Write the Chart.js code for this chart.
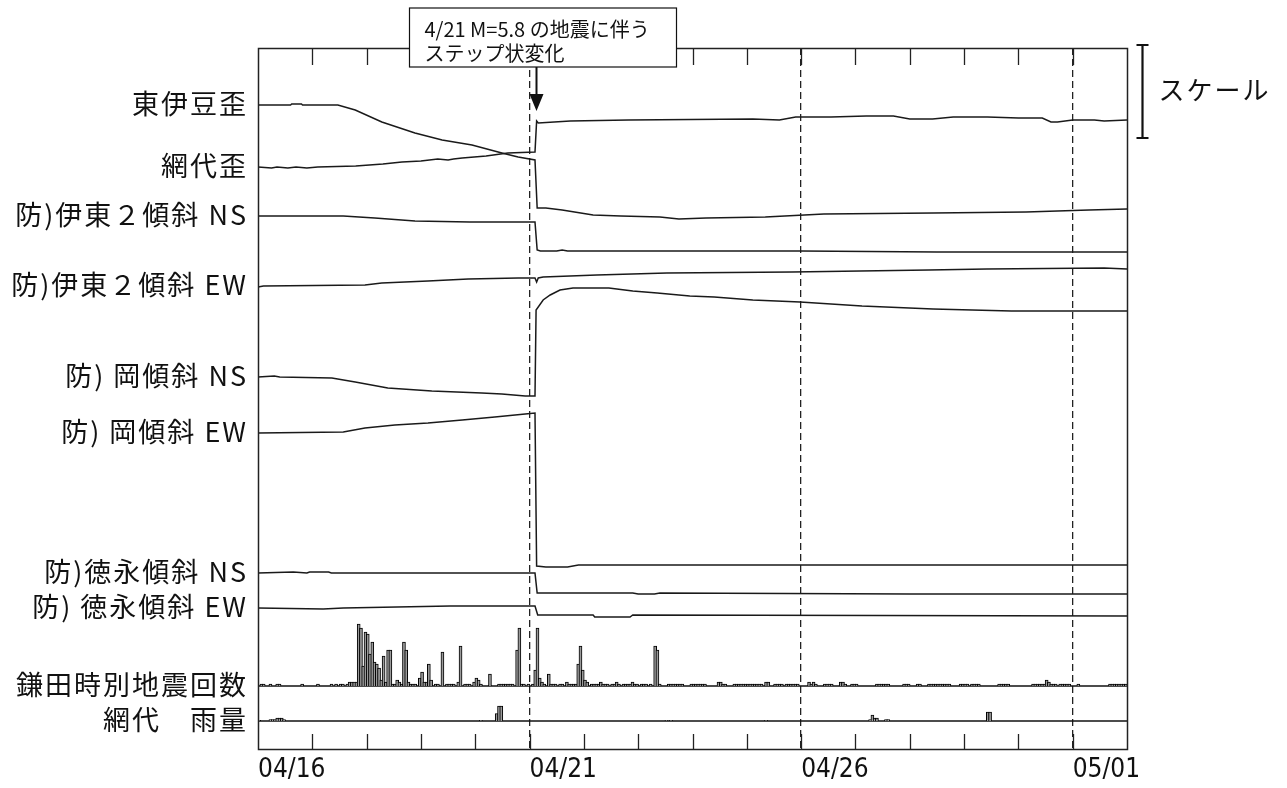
<!DOCTYPE html>
<html>
<head>
<meta charset="utf-8">
<script src="https://cdn.jsdelivr.net/npm/chart.js@4.4.1/dist/chart.umd.min.js"></script>
<style>
  html, body { margin: 0; padding: 0; background: #fff; }
  canvas { display: block; }
</style>
</head>
<body>
<canvas id="chart" width="1287" height="788"></canvas>
<script>
// x axis: days since 04/16 00:00
const tickDays = [0, 5, 10, 15];
const tickLabels = ["04/16", "04/21", "04/26", "05/01"];
const dashDays = [5, 10, 15];
const quakeDay = 5.12; // 4/21 02:50 M5.8

const seriesNames = [
  "東伊豆歪", "網代歪", "防)伊東２傾斜 NS", "防)伊東２傾斜 EW",
  "防) 岡傾斜 NS", "防) 岡傾斜 EW", "防)徳永傾斜 NS", "防) 徳永傾斜 EW",
  "鎌田時別地震回数", "網代　雨量"
];

// traces: [day, change from start of trace] (plot units, up = +)
const higashiIzuStrain = [[0,0],[0.6,0],[0.62,1],[0.8,1],[0.82,0],[1.47,0],[1.79,-5],[2.28,-17],[2.89,-28],[3.39,-35],[3.94,-40],[4.49,-48],[4.79,-52],[5.1,-55],[5.14,-103],[5.3,-103],[5.6,-105],[6.17,-110],[6.68,-111],[7.4,-112],[7.75,-114],[8.25,-113],[9.34,-112],[10.42,-109],[12.43,-108],[14.14,-107],[15.3,-105],[16,-104]];
const ajiroStrain = [[0,0],[0.25,-1],[0.35,0],[0.55,-1],[0.7,0],[0.9,-1],[1.1,0],[1.8,1],[2.3,3],[2.65,5],[3.0,6],[3.31,8],[3.5,7],[3.6,8],[3.76,9],[4.2,11],[4.6,14],[5.1,15],[5.13,46],[5.16,44],[5.75,46],[6.82,47],[9.11,48],[9.6,47],[9.9,50],[10.55,50],[11.2,51],[11.7,51],[12.0,48],[12.42,48],[12.8,50],[13.43,50],[14.0,49],[14.44,49],[14.6,45],[14.72,45],[15.0,47],[15.4,47],[15.58,46],[16,47]];
const itoNS = [[0,0],[1.57,0],[2.15,-2],[2.89,-5],[3.9,-6],[5.1,-6],[5.14,-34],[5.2,-35],[5.5,-35],[5.6,-34],[5.7,-35],[10,-35],[12.5,-36],[16,-36]];
const itoEW = [[0,-1],[0.1,0],[1.97,1],[2.28,3],[3.13,5],[3.87,7],[4.79,8],[5.1,8],[5.13,4],[5.16,8],[5.25,9],[6.24,11],[7.53,13],[9.83,14],[12.35,16],[13.42,17],[15.58,18],[16,17]];
const okaNS = [[0,0],[0.3,1],[0.4,0],[1.36,-1],[1.79,-5],[2.39,-11],[3.2,-14],[4.12,-16],[4.49,-17],[4.92,-19],[5.1,-19],[5.12,67],[5.25,77],[5.38,82],[5.56,87],[5.8,89],[6.46,89],[6.9,86],[7.35,84],[7.95,81],[8.4,80],[9.11,77],[9.98,75],[11.12,71],[12.43,68],[13.87,66],[16,66]];
const okaEW = [[0,0],[1.57,1],[1.97,5],[2.52,8],[3.13,10],[3.76,13],[4.36,16],[4.92,19],[5.1,20],[5.13,-133],[5.3,-134],[5.7,-134],[5.9,-132],[16,-132]];
const tokunagaNS = [[0,0],[0.65,1],[0.9,0],[0.95,1],[1.3,1],[1.35,0],[5.1,0],[5.14,-20],[6.9,-20],[7.0,-21],[7.3,-21],[7.4,-20],[12,-21],[16,-21]];
const tokunagaEW = [[0,0],[1.2,-1],[1.57,0],[3.54,2],[5.1,2],[5.15,-7],[6.17,-7],[6.2,-9],[6.85,-9],[6.9,-7],[16,-8]];

// hourly earthquake counts at Kamata: [hour since 04/16 00:00, count]
const hourlyQuakes = [[1,1],[2,1],[5,1],[8,1],[9,1],[19,1],[26,1],[32,1],[34,1],[36,1],[37,1],[39,1],[40,2],[41,2],[42,2],[43,2],
  [44,31],[45,29],[46,10],[47,27],[48,26],[49,16],[50,22],[51,12],[52,11],[53,9],[54,3],[55,15],[56,2],[57,18],[58,18],[59,1],[60,1],[61,3],[62,2],[63,1],[64,22],[65,18],[66,2],[67,1],[68,1],[69,1],[71,4],[72,7],[73,2],[74,2],[75,11],[76,3],[78,1],[79,1],[81,17],[83,1],[84,1],[85,1],[86,1],[88,2],[89,20],[91,1],[92,1],[93,1],[95,2],[96,4],[97,3],[98,1],[102,6],[106,1],[107,1],[108,1],[109,1],[110,1],[111,1],[112,1],[114,18],[115,29],[116,1],[117,1],[119,1],[121,1],[122,8],[123,29],[124,4],[125,2],[126,1],[128,6],[129,1],[130,1],[131,1],[133,1],[134,1],[136,2],[137,1],[138,1],[139,1],[140,1],[141,11],[142,20],[143,8],[144,3],[145,2],[147,1],[148,1],[149,1],[150,1],[151,2],[152,1],[153,1],[154,1],[156,1],[157,1],[158,2],[159,1],[161,1],[162,1],[163,1],[164,1],[165,2],[166,1],[167,1],[169,1],[170,1],[171,1],[173,1],[175,20],[176,18],[177,1],
  [181,1],[182,1],[183,1],[184,1],[185,1],[186,1],[187,1],[191,1],[192,1],[193,1],[194,1],[195,1],[196,1],[197,1],[203,2],[204,2],[205,1],[206,1],[210,1],[211,1],[212,1],[213,1],[214,1],[215,1],[216,1],[217,1],[218,1],[219,1],[220,1],[221,1],[222,1],[224,2],[225,2],[228,1],[229,1],[230,1],[231,1],[233,1],[234,1],[235,1],[236,1],[237,1],[238,1],[243,2],[244,1],[245,2],[246,1],[250,1],[251,1],[252,1],[253,1],[257,2],[258,2],[259,1],[262,1],[263,1],[264,1],[273,1],[274,1],[275,1],[276,1],[277,1],[278,1],[285,1],[286,1],[287,1],[291,1],[292,1],[296,1],[297,1],[298,1],[299,1],[300,1],[301,1],[302,1],[303,1],[304,1],[305,1],[310,1],[311,1],[312,1],[313,1],[315,1],[316,1],[317,1],[318,1],[327,1],[328,1],[329,1],[330,1],[331,1],[342,1],[343,1],[344,1],[345,1],[346,1],[347,1],[348,3],[349,2],[350,1],[351,1],[352,1],[354,1],[355,1],[356,1],[357,1],[358,1],[362,1],[376,1],[377,1],[378,1],[379,1],[380,1],[381,1],[382,1],[383,1]];

// hourly rainfall at Ajiro: [hour, mm]
const hourlyRain = [[0,0.5],[5,1],[6,1],[7,1],[8,2],[9,2],[10,2],[11,1],[98,0.5],[105,5],[106,10],[107,10],[180,0.5],[182,0.5],[224,0.5],[270,1],[271,4],[272,2],[273,2],[277,1],[278,1],[322,6],[323,6]];

// layout of the stacked traces (plot units on the hidden y axis, 0..701)
const traceBase = [644, 582, 533, 463, 372, 316, 176, 141];
const countBase = 63, countPx = 2;
const rainBase = 28, rainPx = 1.5;
const plotH = 701;

const traces = [higashiIzuStrain, ajiroStrain, itoNS, itoEW, okaNS, okaEW, tokunagaNS, tokunagaEW];

const lineSets = traces.map((t, i) => ({
  type: "line",
  label: seriesNames[i],
  data: t.map(([d, v]) => ({ x: d, y: traceBase[i] + v })),
  borderColor: "#1a1a1a",
  borderWidth: 1.5,
  pointRadius: 0,
  tension: 0,
  yAxisID: "y",
}));

const barStyle = {
  type: "bar",
  grouped: false,
  barThickness: 3,
  borderWidth: 1,
  borderColor: "#000",
  backgroundColor: "#9a9a9a",
};

const datasets = [
  ...lineSets,
  { ...barStyle, label: seriesNames[8], yAxisID: "yc",
    data: hourlyQuakes.map(([h, n]) => ({ x: (h + 0.5) / 24, y: n })) },
  { ...barStyle, label: seriesNames[9], yAxisID: "yr",
    data: hourlyRain.map(([h, r]) => ({ x: (h + 0.5) / 24, y: r })) },
  { type: "line", label: "count zero", yAxisID: "yc", data: [{ x: 0, y: 0 }, { x: 16, y: 0 }],
    borderColor: "#111", borderWidth: 1.5, pointRadius: 0 },
  { type: "line", label: "rain zero", yAxisID: "yr", data: [{ x: 0, y: 0 }, { x: 16, y: 0 }],
    borderColor: "#111", borderWidth: 1.5, pointRadius: 0 },
];

const framePlugin = {
  id: "frame",
  afterDatasetsDraw(chart) {
    const { ctx, chartArea: a, scales } = chart;
    const { x, y, yc, yr } = scales;
    ctx.save();

    // day ticks inside the frame
    ctx.strokeStyle = "#222";
    ctx.lineWidth = 1.3;
    x.ticks.forEach(t => {
      if (t.value <= x.min || t.value >= x.max) return;
      const px = Math.round(x.getPixelForValue(t.value)) + 0.5;
      ctx.beginPath();
      ctx.moveTo(px, a.top); ctx.lineTo(px, a.top + 17);
      ctx.moveTo(px, a.bottom); ctx.lineTo(px, a.bottom - 15);
      ctx.stroke();
    });

    // frame
    ctx.lineWidth = 1.5;
    ctx.strokeStyle = "#222";
    ctx.strokeRect(Math.round(a.left) + 0.5, Math.round(a.top) + 0.5, Math.round(a.width), Math.round(a.height));

    // series names on the left
    const labelY = traceBase.map(v => y.getPixelForValue(v))
      .concat([yc.getPixelForValue(0), yr.getPixelForValue(0)]);
    ctx.fillStyle = "#111";
    ctx.font = '27px "Noto Sans CJK JP", sans-serif';
    ctx.textAlign = "right";
    ctx.textBaseline = "middle";
    ctx.letterSpacing = "2px";
    seriesNames.forEach((n, i) => ctx.fillText(n, a.left - 10, labelY[i] - 1));

    // annotation box + arrow at the earthquake
    const qx = Math.round(x.getPixelForValue(quakeDay)) + 0.5;
    const bx = qx - 127, bw = 267, by = a.top - 40, bh = 59;
    ctx.fillStyle = "#fff";
    ctx.fillRect(bx, by, bw, bh);
    ctx.lineWidth = 1.2;
    ctx.strokeStyle = "#111";
    ctx.strokeRect(bx, by, bw, bh);
    ctx.fillStyle = "#111";
    ctx.textAlign = "left";
    ctx.letterSpacing = "0px";
    ctx.font = '20px "Noto Sans CJK JP", sans-serif';
    ctx.fillText("4/21 M=5.8 の地震に伴う", bx + 15, by + 21);
    ctx.fillText("ステップ状変化", bx + 15, by + 45);

    ctx.lineWidth = 2;
    ctx.beginPath();
    ctx.moveTo(qx, by + bh); ctx.lineTo(qx, a.top + 48);
    ctx.stroke();
    ctx.beginPath();
    ctx.moveTo(qx - 7, a.top + 46); ctx.lineTo(qx + 7, a.top + 46); ctx.lineTo(qx, a.top + 63);
    ctx.closePath();
    ctx.fill();

    // scale bar
    const sx = a.right + 15.5, st = a.top - 3, sb = a.top + 90;
    ctx.lineWidth = 2.2;
    ctx.beginPath();
    ctx.moveTo(sx, st); ctx.lineTo(sx, sb);
    ctx.moveTo(sx - 6, st); ctx.lineTo(sx + 6, st);
    ctx.moveTo(sx - 6, sb); ctx.lineTo(sx + 6, sb);
    ctx.stroke();
    ctx.font = '26px "Noto Sans CJK JP", sans-serif';
    ctx.letterSpacing = "2px";
    ctx.fillText("スケール", sx + 16, (st + sb) / 2 - 1);

    ctx.restore();
  },
};

new Chart(document.getElementById("chart"), {
  type: "line",
  data: { datasets },
  options: {
    responsive: false,
    animation: false,
    events: [],
    layout: { padding: { left: 258, right: 160, top: 48, bottom: 0 } },
    plugins: { legend: { display: false }, tooltip: { enabled: false } },
    scales: {
      x: {
        type: "linear",
        min: 0,
        max: 16,
        offset: false,
        afterFit: s => { s.height = 39; },
        ticks: {
          stepSize: 1,
          autoSkip: false,
          maxRotation: 0,
          align: "start",
          padding: 6,
          color: "#111",
          font: { family: '"DejaVu Sans Condensed", "Liberation Sans Narrow", "Liberation Sans", sans-serif', size: 26 },
          callback: v => {
            const i = tickDays.indexOf(v);
            return i >= 0 ? tickLabels[i] : "";
          },
        },
        grid: {
          offset: false,
          drawTicks: false,
          lineWidth: 1.3,
          color: c => (c.tick && dashDays.includes(c.tick.value)) ? "#222" : "rgba(0,0,0,0)",
        },
        border: { display: false, dash: [7, 4] },
      },
      y: { display: false, min: 0, max: plotH },
      yc: { display: false, min: -countBase / countPx, max: (plotH - countBase) / countPx },
      yr: { display: false, min: -rainBase / rainPx, max: (plotH - rainBase) / rainPx },
    },
  },
  plugins: [framePlugin],
});
</script>
</body>
</html>
